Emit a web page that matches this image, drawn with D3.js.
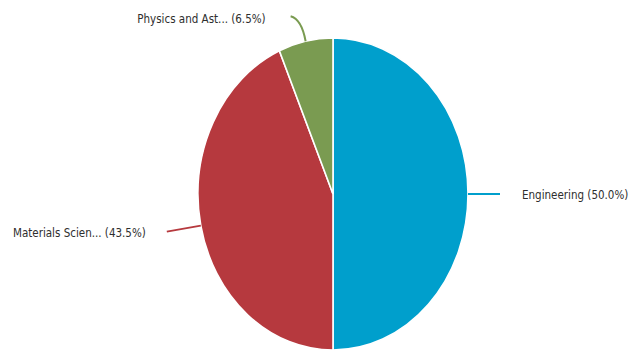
<!DOCTYPE html>
<html><head><meta charset="utf-8">
<script src="https://cdn.jsdelivr.net/npm/d3@7"></script>
<style>body{margin:0;background:#fff}svg{display:block}</style>
</head><body><svg id="c" width="644" height="351"></svg>
<script>
const categories = ["Engineering", "Materials Scien...", "Physics and Ast..."];
const values = [50.0, 43.5, 6.5];
const colors = ["#009fcc", "#b6393e", "#7a9b51"];

const W = 644, H = 351;
const cx = 333, cy = 194, rx = 135, ry = 156;
const svg = d3.select("#c");

const pie = d3.pie().sort(null).value(d => d)(values);
const arc = d3.arc().innerRadius(0).outerRadius(rx);

const g = svg.append("g").attr("transform", `translate(${cx},${cy}) scale(1,${ry/rx})`);
g.selectAll("path").data(pie).join("path")
  .attr("d", arc)
  .attr("fill", (d,i) => colors[i])
  .attr("stroke", "#fff").attr("stroke-width", 1.6)
  .attr("vector-effect", "non-scaling-stroke");

// point on ellipse edge at slice midpoint
function edge(d, k) {
  const a = (d.startAngle + d.endAngle) / 2;
  return [cx + rx * k * Math.sin(a), cy - ry * k * Math.cos(a)];
}

const font = "'Liberation Sans Narrow', 'DejaVu Sans Condensed', sans-serif";
const labelSpecs = [
  {i:0, anchor:"start", line:(p)=>`M${p[0]},${p[1]}L${p[0]+32},${p[1]}`, tx:(p)=>[p[0]+54, p[1]+1]},
  {i:1, anchor:"end", line:(p)=>`M${p[0]},${p[1]}L${p[0]-34},${p[1]+6}`, tx:(p)=>[p[0]-55, p[1]+7]},
  {i:2, anchor:"end", line:(p)=>`M${p[0]},${p[1]}Q${p[0]-4},${p[1]-22} ${p[0]-15},${p[1]-25}`, tx:(p)=>[p[0]-40, p[1]-22]}
];
labelSpecs.forEach(s => {
  const d = pie[s.i];
  const p = edge(d, 1.0);
  svg.append("path").attr("d", s.line(p)).attr("fill","none")
    .attr("stroke", colors[s.i]).attr("stroke-width", 2);
  const t = s.tx(p);
  svg.append("text").attr("x", t[0]).attr("y", t[1]).attr("dy", "0.35em")
    .attr("text-anchor", s.anchor)
    .attr("font-family", font).attr("font-size", 11.5).attr("fill", "#2e2e2e")
    .text(`${categories[s.i]} (${values[s.i].toFixed(1)}%)`);
});
</script></body></html>
